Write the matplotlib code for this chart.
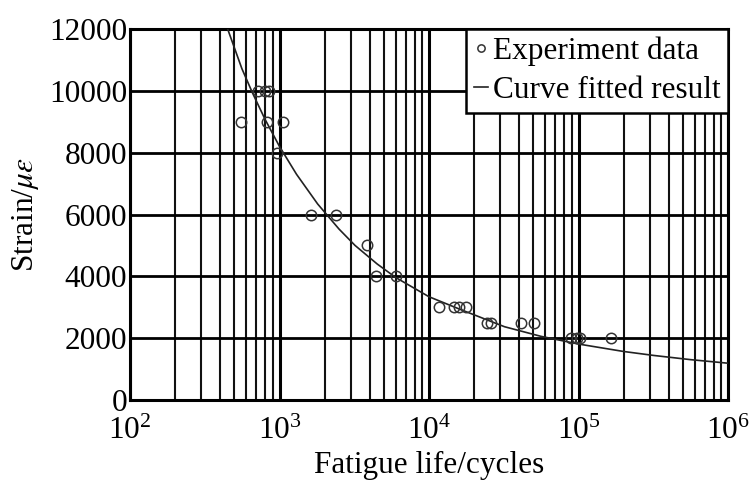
import matplotlib
matplotlib.use("Agg")
import matplotlib.pyplot as plt
from matplotlib.ticker import LogLocator, FixedLocator

# === DATI ===
# prove di fatica: vita (cicli) e deformazione (micro-strain)
test_cycles = [550, 819, 1063, 713, 794, 857, 955, 1634, 2399, 3862, 4431, 6026,
               11660, 14680, 15850, 17640, 24360, 25900, 41070, 50120,
               88500, 97000, 103000, 166000]
test_strain = [9000, 9000, 9000, 10000, 10000, 10000, 8000, 6000, 6000, 5000, 4000, 4000,
               3000, 3000, 3000, 3000, 2500, 2500, 2500, 2500,
               2000, 2000, 2000, 2000]

# curva di regressione letta per punti
fit_cycles = [450, 560, 660, 800, 1000, 1300, 1800, 2500, 3200, 4500, 6000,
              10000, 16000, 32000, 56000, 100000, 200000, 320000, 560000, 1000000]
fit_strain = [12000, 10720, 9930, 9080, 8200, 7300, 6340, 5530, 5000, 4400, 3960,
              3340, 2940, 2370, 2060, 1810, 1570, 1440, 1306, 1190]

y_ticks = [0, 2000, 4000, 6000, 8000, 10000, 12000]

plt.rcParams["font.family"] = ["Liberation Serif", "DejaVu Serif"]
plt.rcParams["mathtext.fontset"] = "stix"

fig = plt.figure(figsize=(7.52, 4.8), dpi=100)
ax = fig.add_axes([130 / 752, 80 / 480, 598 / 752, 371 / 480])

ax.set_xscale("log")
ax.set_xlim(1e2, 1e6)
ax.set_ylim(0, 12000)

# griglia fitta
ax.xaxis.set_major_locator(LogLocator(base=10, numticks=10))
ax.xaxis.set_minor_locator(LogLocator(base=10, subs=range(2, 10), numticks=50))
ax.yaxis.set_major_locator(FixedLocator(y_ticks))
ax.grid(True, which="major", axis="x", color="black", lw=2.2)
ax.grid(True, which="minor", axis="x", color="#111111", lw=1.5)
ax.grid(True, which="major", axis="y", color="black", lw=2.0)
ax.set_axisbelow(True)

ax.plot(fit_cycles, fit_strain, color="#222222", lw=1.2,
        label="Curve fitted result", zorder=3)
ax.plot(test_cycles, test_strain, ls="none", marker="o", ms=7.5,
        mfc="none", mec="#333333", mew=1.1, label="Experiment data", zorder=4)

for s in ax.spines.values():
    s.set_linewidth(2.2)
    s.set_color("black")

ax.tick_params(axis="both", which="both", length=0, labelsize=22.5)
ax.tick_params(axis="x", pad=12)
ax.tick_params(axis="y", pad=2)

ax.set_xlabel("Fatigue life/cycles", fontsize=22.5, labelpad=4)
ax.set_ylabel(r"Strain/$\mu\varepsilon$", fontsize=22.5, labelpad=6)

h, l = ax.get_legend_handles_labels()
leg = ax.legend(h[::-1], l[::-1], loc="upper right", fontsize=22.5,
                frameon=True, fancybox=False, framealpha=1,
                edgecolor="black", borderaxespad=0, borderpad=0.25,
                handlelength=0.45, handletextpad=0.15, labelspacing=0.3,
                markerscale=0.7)
leg.get_frame().set_linewidth(1.8)

fig.savefig("out.png", dpi=100)
plt.close(fig)
